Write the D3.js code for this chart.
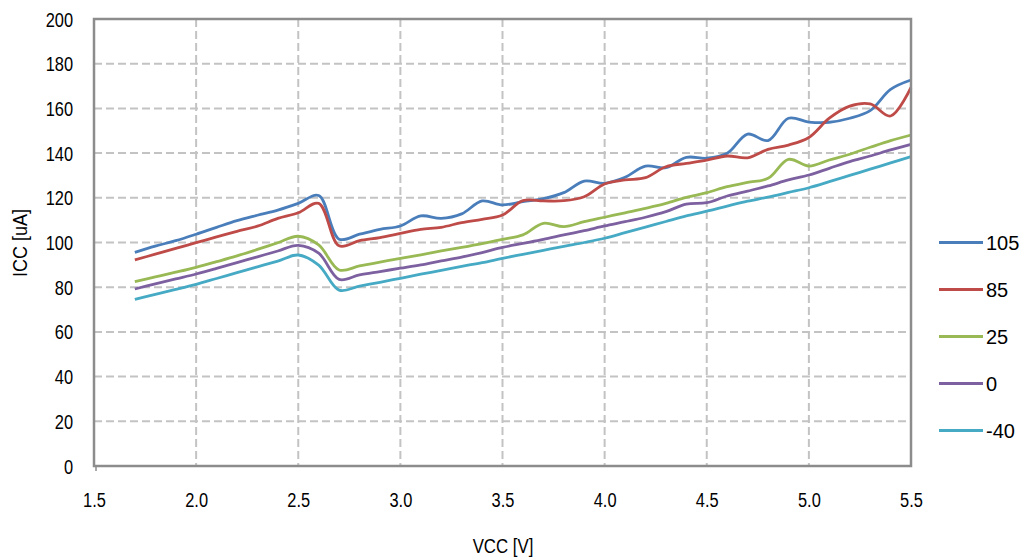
<!DOCTYPE html>
<html><head><meta charset="utf-8">
<script src="https://cdn.jsdelivr.net/npm/d3@7"></script>
<style>
html,body{margin:0;padding:0;background:#fff;}
svg text{font-family:"Liberation Sans",Arial,sans-serif;fill:#000;}
</style></head>
<body><svg id="c" width="1027" height="560"></svg>
<script>
const vcc = [1.7,1.8,1.9,2.0,2.1,2.2,2.3,2.4,2.5,2.6,2.7,2.8,2.9,3.0,3.1,3.2,3.3,3.4,3.5,3.6,3.7,3.8,3.9,4.0,4.1,4.2,4.3,4.4,4.5,4.6,4.7,4.8,4.9,5.0,5.1,5.2,5.3,5.4,5.5];
const s105 = [95.6,98.4,100.8,103.7,106.8,109.8,112.2,114.5,117.5,121.0,101.5,103.7,105.9,107.4,111.9,110.8,112.8,118.6,116.8,118.3,119.6,122.3,127.5,126.5,129.2,134.2,133.5,138.1,137.7,139.9,148.5,145.6,155.6,153.9,153.8,155.6,159.0,168.5,172.7];
const s85 = [92.2,94.8,97.4,99.9,102.5,105.0,107.3,110.8,113.3,117.5,98.5,100.8,102.2,104.1,105.9,106.8,108.9,110.4,112.3,118.7,118.6,118.7,120.5,126.2,128.0,129.0,133.9,135.4,136.9,138.7,137.9,141.7,143.6,147.0,155.6,161.0,162.0,156.6,169.4];
const s25 = [82.5,84.6,86.7,88.9,91.4,94.0,96.9,99.9,102.8,98.9,87.7,89.5,91.2,92.9,94.5,96.2,97.8,99.5,101.4,103.4,108.6,107.1,109.3,111.3,113.3,115.3,117.5,120.2,122.3,125.0,126.9,128.7,137.2,134.2,136.9,139.5,142.6,145.6,148.1];
const s0 = [79.2,81.5,83.7,85.9,88.4,91.0,93.6,96.2,98.7,95.2,83.5,85.5,87.0,88.5,90.0,91.8,93.5,95.5,97.8,99.6,101.4,103.4,105.3,107.4,109.3,111.3,113.8,117.2,117.8,120.8,123.0,125.3,128.0,130.2,133.2,136.2,138.7,141.4,143.9];
const sm40 = [74.6,76.8,79.0,81.3,83.9,86.5,89.1,91.7,94.4,89.9,78.7,80.5,82.2,84.0,85.8,87.5,89.3,91.0,92.9,94.7,96.5,98.3,100.0,101.9,104.4,106.9,109.4,111.9,114.0,116.3,118.5,120.3,122.4,124.5,127.2,130.0,132.8,135.6,138.4];
const seriesNames = ["105","85","25","0","-40"];
const seriesValues = [s105,s85,s25,s0,sm40];
const colors = ["#4A7EBB","#BE4B48","#98B954","#7D60A0","#46AAC5"];
const xTicks = [1.5,2.0,2.5,3.0,3.5,4.0,4.5,5.0,5.5];
const yTicks = [0,20,40,60,80,100,120,140,160,180,200];

const svg = d3.select("#c");
const L=94, R=911, T=19, B=466;
const x = d3.scaleLinear().domain([1.5,5.5]).range([L,R]);
const y = d3.scaleLinear().domain([0,200]).range([B,T]);

function narrow(sel, f){
  sel.each(function(){
    const w = this.getComputedTextLength();
    d3.select(this).attr("textLength", w*f).attr("lengthAdjust","spacingAndGlyphs");
  });
}

// gridlines
const g = svg.append("g");
g.selectAll("line.hg").data(yTicks.filter(d=>d>0&&d<200)).enter().append("line")
  .attr("x1",L).attr("x2",R).attr("y1",d=>y(d)).attr("y2",d=>y(d))
  .attr("stroke","#c3c3c3").attr("stroke-width",2).attr("stroke-dasharray","8,4");
g.selectAll("line.vg").data(xTicks.filter(d=>d>1.5&&d<5.5)).enter().append("line")
  .attr("y1",T).attr("y2",B).attr("x1",d=>x(d)).attr("x2",d=>x(d))
  .attr("stroke","#c3c3c3").attr("stroke-width",2).attr("stroke-dasharray","8,4");

// series
const line = d3.line().x((d,i)=>x(vcc[i])).y(d=>y(d)).curve(d3.curveCatmullRom.alpha(0.5));
seriesValues.forEach((vals,k)=>{
  svg.append("path").datum(vals).attr("d",line).attr("fill","none")
    .attr("stroke",colors[k]).attr("stroke-width",2.8).attr("stroke-linejoin","round");
});

// frame
svg.append("rect").attr("x",L).attr("y",T).attr("width",R-L).attr("height",B-T)
  .attr("fill","none").attr("stroke","#8c8c8c").attr("stroke-width",2.5);

// axes
const ya = svg.append("g").attr("transform",`translate(${L},0)`)
  .call(d3.axisLeft(y).tickValues(yTicks).tickSize(0).tickPadding(21).tickFormat(d3.format("d")));
ya.select(".domain").remove();
ya.selectAll("text").attr("font-size",20).attr("font-family",null).attr("dy","0.35em").call(narrow,0.82);

const xa = svg.append("g").attr("transform",`translate(0,${B})`)
  .call(d3.axisBottom(x).tickValues(xTicks).tickSize(0).tickPadding(27).tickFormat(d3.format(".1f")));
xa.select(".domain").remove();
xa.selectAll("text").attr("font-size",20).attr("font-family",null).call(narrow,0.82);
svg.append("line").attr("x1",96).attr("x2",96).attr("y1",B).attr("y2",B+5).attr("stroke","#8c8c8c").attr("stroke-width",1.5);

// titles
svg.append("text").attr("transform","translate(27,243) rotate(-90)").attr("text-anchor","middle")
  .attr("font-size",20).text("ICC [uA]").call(narrow,0.9);
svg.append("text").attr("x",503).attr("y",553).attr("text-anchor","middle")
  .attr("font-size",20).text("VCC [V]").call(narrow,0.84);

// legend
const ly = d3.scaleBand().domain(seriesNames).range([219,454]);
const lg = svg.append("g");
seriesNames.forEach((n,k)=>{
  const yy = ly(n)+ly.bandwidth()/2;
  lg.append("line").attr("x1",939).attr("x2",983).attr("y1",yy).attr("y2",yy)
    .attr("stroke",colors[k]).attr("stroke-width",3);
  lg.append("text").attr("x",986).attr("y",yy).attr("dy","0.36em")
    .attr("font-size",20).text(n);
});
</script></body></html>
